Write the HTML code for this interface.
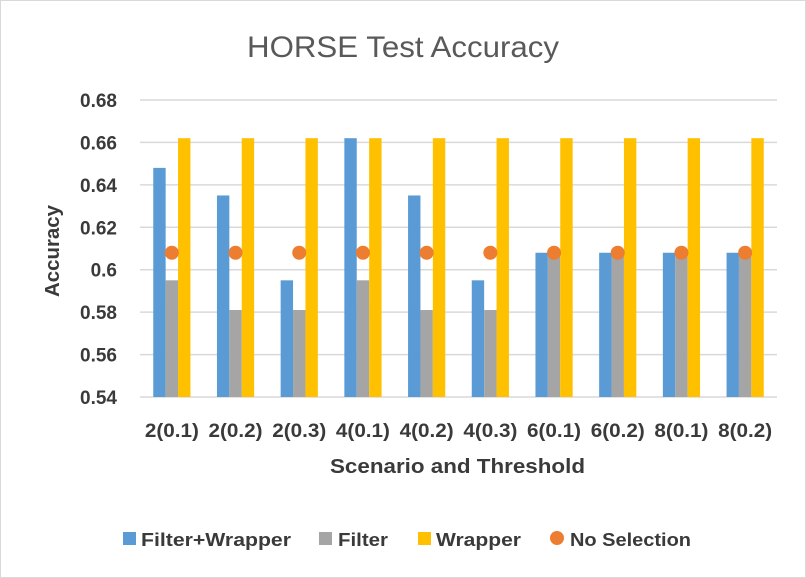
<!DOCTYPE html>
<html><head><meta charset="utf-8"><style>
body{margin:0;background:#fff;}
svg{display:block;font-family:"Liberation Sans",sans-serif;}
</style></head><body>
<svg id="chart" width="806" height="578">
<rect x="0.5" y="0.5" width="805" height="577" fill="#fff" stroke="#d9d9d9"/>
<text x="247" y="57" font-size="30" fill="#595959" textLength="312" lengthAdjust="spacingAndGlyphs">HORSE Test Accuracy</text>
<g id="grid"></g><g id="bars"></g><g id="yticks"></g><g id="xticks"></g>
<text x="0" y="0" transform="translate(59,251) rotate(-90)" text-anchor="middle" font-size="20" font-weight="bold" fill="#3a3a3a" textLength="92" lengthAdjust="spacingAndGlyphs">Accuracy</text>
<text x="330" y="473" font-size="20" font-weight="bold" fill="#3a3a3a" textLength="255" lengthAdjust="spacingAndGlyphs">Scenario and Threshold</text>
<g font-size="18" font-weight="bold" fill="#3a3a3a">
<g><rect x="123" y="532" width="13" height="13" fill="#5b9bd5"/><text x="141" y="546" textLength="150" lengthAdjust="spacingAndGlyphs">Filter+Wrapper</text></g>
<g><rect x="319" y="532" width="13" height="13" fill="#a5a5a5"/><text x="338" y="546" textLength="50" lengthAdjust="spacingAndGlyphs">Filter</text></g>
<g><rect x="418" y="532" width="13" height="13" fill="#ffc000"/><text x="436" y="546" textLength="85" lengthAdjust="spacingAndGlyphs">Wrapper</text></g>
<g><circle cx="557" cy="538" r="7" fill="#ed7d31"/><text x="570" y="546" textLength="121" lengthAdjust="spacingAndGlyphs">No Selection</text></g>
</g>
</svg>
<script>
const categories=["2(0.1)","2(0.2)","2(0.3)","4(0.1)","4(0.2)","4(0.3)","6(0.1)","6(0.2)","8(0.1)","8(0.2)"];
const filterWrapper=[0.648,0.635,0.595,0.662,0.635,0.595,0.608,0.608,0.608,0.608];
const filterOnly=[0.595,0.581,0.581,0.595,0.581,0.581,0.608,0.608,0.608,0.608];
const wrapper=[0.662,0.662,0.662,0.662,0.662,0.662,0.662,0.662,0.662,0.662];
const noSelection=[0.608,0.608,0.608,0.608,0.608,0.608,0.608,0.608,0.608,0.608];
const yTicks=[0.54,0.56,0.58,0.6,0.62,0.64,0.66,0.68];
const yTickLabels=["0.54","0.56","0.58","0.6","0.62","0.64","0.66","0.68"];
const NS="http://www.w3.org/2000/svg";
const X0=140,X1=777,Y0=397,Y1=100,ymin=0.54,ymax=0.68;
const bw=(X1-X0)/categories.length;
const y=v=>Y0-(v-ymin)/(ymax-ymin)*(Y0-Y1);
const xc=i=>X0+bw*(i+0.5);
function mk(tag,attrs,parent){const e=document.createElementNS(NS,tag);for(const k in attrs)e.setAttribute(k,attrs[k]);document.getElementById(parent).appendChild(e);return e;}
yTicks.forEach((t,i)=>{
 const l=mk('line',{x1:X0,x2:X1,y1:y(t),y2:y(t),stroke:'#d9d9d9','stroke-width':1.5},'grid');
 
 
 const tx=mk('text',{x:117,y:y(t)+7,'text-anchor':'end','font-size':19,'font-weight':'bold',fill:'#3a3a3a'},'yticks');
 tx.textContent=yTickLabels[i];
 
 
});
const w=12.4;
const series=[[filterWrapper,'#5b9bd5','bar-filter-wrapper'],[filterOnly,'#a5a5a5','bar-filter'],[wrapper,'#ffc000','bar-wrapper']];
categories.forEach((c,i)=>{
 series.forEach((s,j)=>{
  const v=s[0][i];
  const r=mk('rect',{x:xc(i)-1.5*w+j*w,y:y(v),width:w,height:Y0-y(v),fill:s[1]},'bars');
  
  
 });
 const d=mk('circle',{cx:xc(i),cy:y(noSelection[i]),r:7,fill:'#ed7d31'},'bars');
 
 
 const tx=mk('text',{x:xc(i),y:437,'text-anchor':'middle','font-size':19,'font-weight':'bold',fill:'#3a3a3a',textLength:54,lengthAdjust:'spacingAndGlyphs'},'xticks');
 tx.textContent=c;
 
 
});
</script>
</body></html>
